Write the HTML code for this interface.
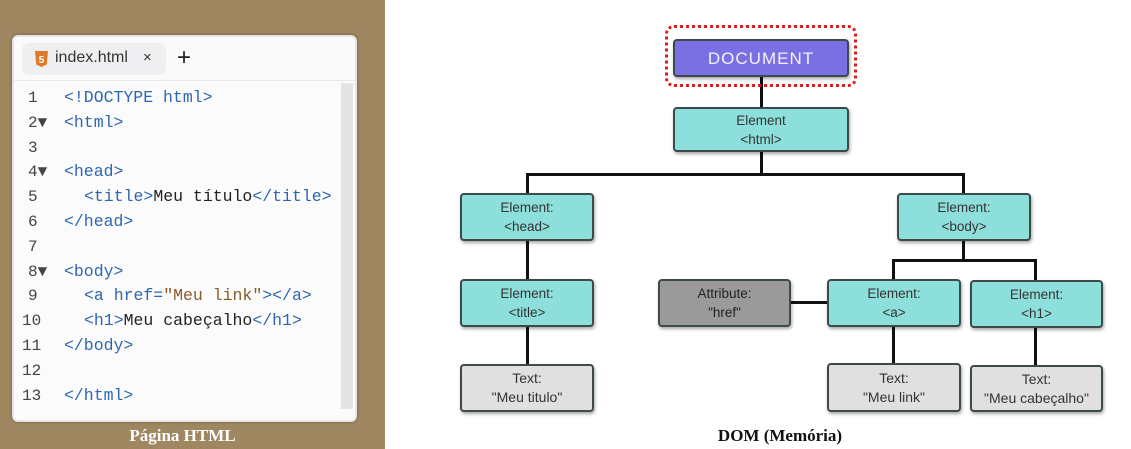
<!DOCTYPE html>
<html><head><meta charset="utf-8"><style>
*{margin:0;padding:0;box-sizing:border-box}
body{width:1131px;height:449px;background:#fff;position:relative;overflow:hidden;font-family:"Liberation Sans",sans-serif}
#left{position:absolute;left:0;top:0;width:385px;height:449px;background:#9f8762}
#card{position:absolute;left:12px;top:35px;width:345px;height:387px;background:#fbfbfc;border:2px solid #e6e6e6;border-radius:6px;box-shadow:0 0 3px #6b5a3e}
#tabbar{position:absolute;left:0;top:0;width:341px;height:44px;background:#fafafa;border-bottom:1px solid #e8e8e8;border-radius:6px 6px 0 0}
#tab{position:absolute;left:8px;top:6px;width:144px;height:32px;background:#efeff1;border-radius:7px}
.code{position:absolute;font-family:"Liberation Mono",monospace;font-size:16.5px;color:#2f66b0;white-space:pre;line-height:16px}
.ln{position:absolute;font-family:"Liberation Mono",monospace;font-size:16px;color:#444;line-height:16px}
.k{color:#222}.s{color:#8a5a2a}
#scroll{position:absolute;left:327px;top:46px;width:12px;height:326px;background:#e4e4e6}
.cap{position:absolute;font-family:"Liberation Serif",serif;font-weight:bold;font-size:17px}
.n{position:absolute;border:2px solid #3c4a4a;border-radius:4px;text-align:center;font-size:13.5px;color:#333;line-height:19px;display:flex;flex-direction:column;justify-content:center;box-shadow:1px 2px 3px rgba(0,0,0,.35)}
.t{background:#8ddfdb}.g{background:#9a9a9a;color:#222}.w{background:#e0e0e0;font-size:14px}
.h{position:absolute;background:#111;height:2.5px}.v{position:absolute;background:#111;width:2.5px}
</style></head><body>
<div id="left">
 <div id="card">
  <div id="tabbar"><div id="tab">
   <svg style="position:absolute;left:13px;top:8px" width="13" height="16" viewBox="0 0 13 16"><path d="M0 0h13l-1.2 13.5L6.5 16 1.2 13.5z" fill="#e07a2a"/><text x="6.5" y="12" font-size="10" font-weight="bold" text-anchor="middle" fill="#fff" font-family="Liberation Sans">5</text></svg>
   <span style="position:absolute;left:33px;top:6px;font-size:16px;color:#333">index.html</span>
   <span style="position:absolute;left:121px;top:6px;font-size:15px;color:#333">×</span>
  </div>
  <span style="position:absolute;left:163px;top:6px;font-size:24px;color:#222;line-height:30px">+</span>
  </div>
  <div id="scroll"></div>
 </div>
 <div class="ln" style="left:28px;top:90px">1</div><div class="code" style="left:64px;top:90px">&lt;!DOCTYPE html&gt;</div>
 <div class="ln" style="left:28px;top:115px">2▼</div><div class="code" style="left:64px;top:115px">&lt;html&gt;</div>
 <div class="ln" style="left:28px;top:140px">3</div>
 <div class="ln" style="left:28px;top:164px">4▼</div><div class="code" style="left:64px;top:164px">&lt;head&gt;</div>
 <div class="ln" style="left:28px;top:189px">5</div><div class="code" style="left:84px;top:189px">&lt;title&gt;<span class="k">Meu título</span>&lt;/title&gt;</div>
 <div class="ln" style="left:28px;top:214px">6</div><div class="code" style="left:64px;top:214px">&lt;/head&gt;</div>
 <div class="ln" style="left:28px;top:239px">7</div>
 <div class="ln" style="left:28px;top:264px">8▼</div><div class="code" style="left:64px;top:264px">&lt;body&gt;</div>
 <div class="ln" style="left:28px;top:288px">9</div><div class="code" style="left:84px;top:288px">&lt;a href=<span class="s">"Meu link"</span>&gt;&lt;/a&gt;</div>
 <div class="ln" style="left:22px;top:313px">10</div><div class="code" style="left:84px;top:313px">&lt;h1&gt;<span class="k">Meu cabeçalho</span>&lt;/h1&gt;</div>
 <div class="ln" style="left:22px;top:338px">11</div><div class="code" style="left:64px;top:338px">&lt;/body&gt;</div>
 <div class="ln" style="left:22px;top:363px">12</div>
 <div class="ln" style="left:22px;top:388px">13</div><div class="code" style="left:64px;top:388px">&lt;/html&gt;</div>
 <div class="cap" style="left:0;width:365px;text-align:center;top:426px;color:#fff">Página HTML</div>
</div>

<div class="v" style="left:760px;top:76px;height:32px"></div>
<div class="v" style="left:760px;top:151px;height:24px"></div>
<div class="h" style="left:526px;top:173px;width:439px"></div>
<div class="v" style="left:526px;top:173px;height:21px"></div>
<div class="v" style="left:962px;top:173px;height:21px"></div>
<div class="v" style="left:526px;top:240px;height:40px"></div>
<div class="v" style="left:526px;top:326px;height:39px"></div>
<div class="v" style="left:962px;top:240px;height:21px"></div>
<div class="h" style="left:892px;top:259px;width:145px"></div>
<div class="v" style="left:892px;top:259px;height:21px"></div>
<div class="v" style="left:1034px;top:259px;height:22px"></div>
<div class="h" style="left:790px;top:301px;width:38px"></div>
<div class="v" style="left:892px;top:326px;height:38px"></div>
<div class="v" style="left:1034px;top:327px;height:39px"></div>

<div style="position:absolute;left:665px;top:25px;width:192px;height:62px;border:3px dotted #d81e1e;border-radius:9px"></div>
<div class="n" style="left:673px;top:39px;width:176px;height:38px;background:#7a6fe3;color:#f4f2ff;font-size:17px;letter-spacing:1px">DOCUMENT</div>
<div class="n t" style="left:673px;top:107px;width:176px;height:45px">Element<br>&lt;html&gt;</div>
<div class="n t" style="left:460px;top:193px;width:134px;height:48px">Element:<br>&lt;head&gt;</div>
<div class="n t" style="left:897px;top:193px;width:134px;height:48px">Element:<br>&lt;body&gt;</div>
<div class="n t" style="left:460px;top:279px;width:134px;height:48px">Element:<br>&lt;title&gt;</div>
<div class="n g" style="left:658px;top:279px;width:133px;height:48px">Attribute:<br>"href"</div>
<div class="n t" style="left:827px;top:279px;width:134px;height:48px">Element:<br>&lt;a&gt;</div>
<div class="n t" style="left:970px;top:280px;width:133px;height:48px">Element:<br>&lt;h1&gt;</div>
<div class="n w" style="left:460px;top:364px;width:134px;height:48px">Text:<br>"Meu titulo"</div>
<div class="n w" style="left:827px;top:363px;width:134px;height:49px">Text:<br>"Meu link"</div>
<div class="n w" style="left:970px;top:365px;width:133px;height:47px">Text:<br>"Meu cabeçalho"</div>
<div class="cap" style="left:680px;width:200px;text-align:center;top:426px;color:#111">DOM (Memória)</div>
</body></html>
